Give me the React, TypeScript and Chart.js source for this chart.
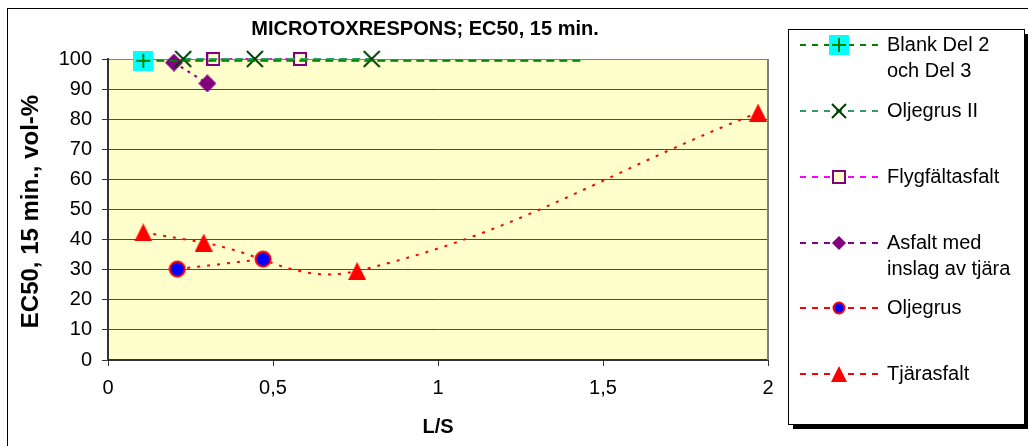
import React, { useEffect, useRef } from 'react';
import { Chart, registerables } from 'chart.js';

Chart.register(...registerables);

// ---------- data ----------
const seriesNames = [
  'Blank Del 2 och Del 3',
  'Oljegrus II',
  'Flygfältasfalt',
  'Asfalt med inslag av tjära',
  'Oljegrus',
  'Tjärasfalt',
];

const blankLS = [0.107, 1.44];
const blankEC50 = [99.4, 99.4];
const oljegrusIILS = [0.228, 0.445, 0.799];
const oljegrusIIEC50 = [100, 100, 100];
const flygLS = [0.319, 0.582];
const flygEC50 = [100, 100];
const asfaltLS = [0.2, 0.301];
const asfaltEC50 = [98.8, 91.9];
const oljegrusLS = [0.21, 0.47];
const oljegrusEC50 = [30.2, 33.5];
const tjarLS = [0.107, 0.29, 0.755, 1.97];
const tjarEC50 = [42.4, 39.0, 29.6, 82.2];

const xTickValues = [0, 0.5, 1, 1.5, 2];
const xTickLabels = ['0', '0,5', '1', '1,5', '2'];
const yTickValues = [0, 10, 20, 30, 40, 50, 60, 70, 80, 90, 100];
const yTickLabels = ['0', '10', '20', '30', '40', '50', '60', '70', '80', '90', '100'];

const chartTitle = 'MICROTOXRESPONS; EC50, 15 min.';
const yAxisTitle = 'EC50, 15 min., vol-%';
const xAxisTitle = 'L/S';

const FONT = "'Liberation Sans', Arial, sans-serif";

// ---------- markers ----------
function makeMarker(kind: string, s: number): HTMLCanvasElement {
  const c = document.createElement('canvas');
  c.width = s;
  c.height = s;
  const g = c.getContext('2d') as CanvasRenderingContext2D;
  const m = s / 2;
  switch (kind) {
    case 'plus':
      g.fillStyle = '#00FFFF';
      g.fillRect(0, 0, s, s);
      g.strokeStyle = '#008000';
      g.lineWidth = 2;
      g.beginPath();
      g.moveTo(m, 3);
      g.lineTo(m, s - 3);
      g.moveTo(3, m);
      g.lineTo(s - 3, m);
      g.stroke();
      break;
    case 'cross':
      g.strokeStyle = '#003f00';
      g.lineWidth = 2;
      g.beginPath();
      g.moveTo(1, 1);
      g.lineTo(s - 1, s - 1);
      g.moveTo(s - 1, 1);
      g.lineTo(1, s - 1);
      g.stroke();
      break;
    case 'square':
      g.fillStyle = '#FFFFCC';
      g.fillRect(1, 1, s - 2, s - 2);
      g.strokeStyle = '#800080';
      g.lineWidth = 2;
      g.strokeRect(1, 1, s - 2, s - 2);
      break;
    case 'diamond':
      g.fillStyle = '#800080';
      g.beginPath();
      g.moveTo(m, 0);
      g.lineTo(s, m);
      g.lineTo(m, s);
      g.lineTo(0, m);
      g.closePath();
      g.fill();
      break;
    case 'circle':
      g.fillStyle = '#0000FF';
      g.strokeStyle = '#FF0000';
      g.lineWidth = 2;
      g.beginPath();
      g.arc(m, m, m - 1.5, 0, Math.PI * 2);
      g.fill();
      g.stroke();
      break;
    case 'triangle':
      g.fillStyle = '#FF0000';
      g.beginPath();
      g.moveTo(m, 0);
      g.lineTo(s, s);
      g.lineTo(0, s);
      g.closePath();
      g.fill();
      break;
  }
  return c;
}

function pts(xs: number[], ys: number[]) {
  return xs.map((x, i) => ({ x, y: ys[i] }));
}

function wrapText(ctx: CanvasRenderingContext2D, text: string, maxW: number): string[] {
  const words = text.split(' ');
  const lines: string[] = [];
  let cur = '';
  for (const w of words) {
    const t = cur ? cur + ' ' + w : w;
    if (ctx.measureText(t).width > maxW && cur) {
      lines.push(cur);
      cur = w;
    } else {
      cur = t;
    }
  }
  if (cur) lines.push(cur);
  return lines;
}

export default function App() {
  const ref = useRef<HTMLCanvasElement | null>(null);

  useEffect(() => {
    document.body.style.margin = '0';
    const canvas = ref.current;
    if (!canvas) return;

    const kinds = ['plus', 'cross', 'square', 'diamond', 'circle', 'triangle'];
    const chartSizes = [20, 18, 14, 18, 18, 18];
    const legendSizes = [20, 16, 14, 14, 14, 16];
    const chartMarkers = kinds.map((k, i) => makeMarker(k, chartSizes[i]));
    const legendMarkers = kinds.map((k, i) => makeMarker(k, legendSizes[i]));

    const lineColors = ['#008000', '#339966', '#FF00FF', '#800080', '#FF0000', '#FF0000'];
    const dashes = [[8, 5], [8, 5], [3, 5], [3, 5], [3, 7], [3, 7]];
    const seriesData = [
      pts(blankLS, blankEC50),
      pts(oljegrusIILS, oljegrusIIEC50),
      pts(flygLS, flygEC50),
      pts(asfaltLS, asfaltEC50),
      pts(oljegrusLS, oljegrusEC50),
      pts(tjarLS, tjarEC50),
    ];
    const orders = [1, 2, 4, 3, 5, 6];
    const tensions = [0, 0, 0, 0, 0, 0.4];

    const datasets = seriesNames.map((name, i) => ({
      label: name,
      data: seriesData[i],
      borderColor: lineColors[i],
      backgroundColor: lineColors[i],
      borderWidth: 2,
      borderDash: dashes[i],
      pointStyle: chartMarkers[i] as any,
      pointRadius: i === 0 ? seriesData[i].map((_, j) => (j === 0 ? 9 : 0)) : 9,
      tension: tensions[i],
      order: orders[i],
      clip: false as any,
      showLine: true,
    }));

    const decorPlugin = {
      id: 'decor',
      beforeDraw(chart: any) {
        const ctx = chart.ctx as CanvasRenderingContext2D;
        const a = chart.chartArea;
        ctx.save();
        ctx.fillStyle = '#FFFFFF';
        ctx.fillRect(0, 0, chart.width, chart.height);
        ctx.fillStyle = '#FFFFCC';
        ctx.fillRect(a.left, a.top, a.right - a.left, a.bottom - a.top);
        ctx.restore();
      },
      beforeDatasetsDraw(chart: any) {
        const ctx = chart.ctx as CanvasRenderingContext2D;
        const a = chart.chartArea;
        ctx.save();
        ctx.strokeStyle = '#808080';
        ctx.lineWidth = 2;
        ctx.beginPath();
        ctx.moveTo(a.right, a.top);
        ctx.lineTo(a.right, a.bottom);
        ctx.stroke();
        ctx.restore();
      },
      afterDraw(chart: any) {
        const ctx = chart.ctx as CanvasRenderingContext2D;
        const a = chart.chartArea;
        ctx.save();
        // outer frame
        ctx.strokeStyle = '#000000';
        ctx.lineWidth = 1;
        ctx.strokeRect(7.5, 8.5, chart.width + 10, chart.height + 10);

        // titles
        ctx.fillStyle = '#000000';
        ctx.font = `bold 20px ${FONT}`;
        ctx.textAlign = 'center';
        ctx.textBaseline = 'middle';
        ctx.fillText(chartTitle, 425, 29);
        ctx.fillText(xAxisTitle, (a.left + a.right) / 2, 427);
        ctx.save();
        ctx.font = `bold 24px ${FONT}`;
        ctx.translate(31, (a.top + a.bottom) / 2 + 2);
        ctx.rotate(-Math.PI / 2);
        ctx.fillText(yAxisTitle, 0, 0);
        ctx.restore();

        // legend box
        const bx = 788, by = 29, bw = 236, bh = 395;
        ctx.fillStyle = '#000000';
        ctx.fillRect(bx + 5, by + 5, bw, bh);
        ctx.fillStyle = '#FFFFFF';
        ctx.fillRect(bx, by, bw, bh);
        ctx.strokeStyle = '#000000';
        ctx.lineWidth = 1;
        ctx.strokeRect(bx + 0.5, by + 0.5, bw, bh);

        const ds = chart.data.datasets;
        const slot = bh / ds.length;
        ctx.font = `20px ${FONT}`;
        ctx.textAlign = 'left';
        ctx.textBaseline = 'middle';
        ds.forEach((d: any, i: number) => {
          const y = Math.round(by + i * slot + 16);
          ctx.save();
          ctx.strokeStyle = d.borderColor;
          ctx.lineWidth = 2;
          ctx.setLineDash([6, 6]);
          ctx.beginPath();
          ctx.moveTo(800, y);
          ctx.lineTo(878, y);
          ctx.stroke();
          ctx.restore();
          const mk = legendMarkers[i];
          ctx.drawImage(mk, 839 - mk.width / 2, y - mk.height / 2);
          ctx.fillStyle = '#000000';
          const lines = wrapText(ctx, d.label, 136);
          lines.forEach((ln, j) => ctx.fillText(ln, 887, y + j * 26));
        });
        ctx.restore();
      },
    };

    const chart = new Chart(canvas, {
      type: 'scatter',
      data: { datasets: datasets as any },
      options: {
        animation: false,
        responsive: false,
        maintainAspectRatio: false,
        devicePixelRatio: 1,
        layout: { padding: { left: 0, top: 59, right: 260, bottom: 0 } },
        plugins: {
          legend: { display: false },
          title: { display: false },
          tooltip: { enabled: false },
        },
        scales: {
          x: {
            type: 'linear',
            min: 0,
            max: 2,
            afterBuildTicks: (s: any) => {
              s.ticks = xTickValues.map((v) => ({ value: v }));
            },
            afterFit: (s: any) => {
              s.height = 86;
            },
            ticks: {
              color: '#000000',
              font: { family: FONT, size: 20 },
              padding: 10,
              maxRotation: 0,
              autoSkip: false,
              callback: (v: any) => {
                const idx = xTickValues.indexOf(Number(v));
                return idx >= 0 ? xTickLabels[idx] : '';
              },
            },
            grid: { drawOnChartArea: false, drawTicks: true, tickLength: 6, tickColor: '#333333', lineWidth: 1 },
            border: { display: true, color: '#333333', width: 2 },
          },
          y: {
            type: 'linear',
            min: 0,
            max: 100,
            afterBuildTicks: (s: any) => {
              s.ticks = yTickValues.map((v) => ({ value: v }));
            },
            afterFit: (s: any) => {
              s.width = 108;
            },
            ticks: {
              color: '#000000',
              font: { family: FONT, size: 20 },
              padding: 10,
              autoSkip: false,
              callback: (v: any) => {
                const idx = yTickValues.indexOf(Number(v));
                return idx >= 0 ? yTickLabels[idx] : '';
              },
            },
            grid: {
              color: (c: any) => (c.tick && c.tick.value === 100 ? '#808080' : '#4d4d4d'),
              lineWidth: 1,
              drawTicks: true,
              tickLength: 6,
              tickColor: '#333333',
            },
            border: { display: true, color: '#333333', width: 2 },
          },
        },
      },
      plugins: [decorPlugin],
    });

    return () => {
      chart.destroy();
    };
  }, []);

  return (
    <div style={{ position: 'fixed', left: 0, top: 0, width: 1028, height: 446 }}>
      <canvas ref={ref} width={1028} height={446} style={{ width: 1028, height: 446, display: 'block' }} />
    </div>
  );
}
